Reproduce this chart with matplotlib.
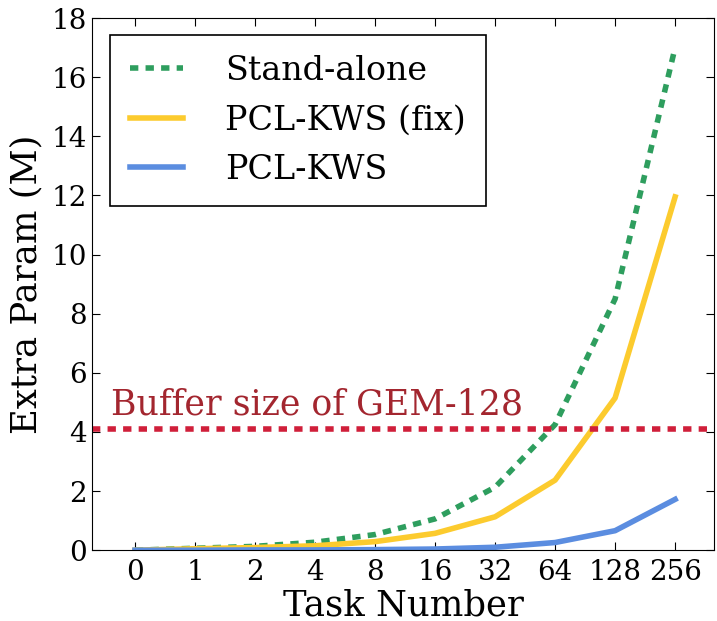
import matplotlib
matplotlib.use("Agg")
import matplotlib.pyplot as plt

# task counts on the x axis (evenly spaced categories)
tasks = ["0", "1", "2", "4", "8", "16", "32", "64", "128", "256"]
# extra parameters in millions
stand_alone = [0.0, 0.066, 0.13, 0.27, 0.53, 1.06, 2.13, 4.25, 8.5, 17.0]
pcl_fix = [0.0, 0.05, 0.09, 0.15, 0.29, 0.57, 1.13, 2.37, 5.15, 11.95]
pcl_kws = [0.0, 0.0, 0.01, 0.01, 0.02, 0.04, 0.1, 0.26, 0.66, 1.72]
buffer_gem128 = 4.1

plt.rcParams['font.family'] = 'DejaVu Serif'

fig = plt.figure(figsize=(7.17, 6.21), dpi=100)
ax = fig.add_axes([0.128, 0.114, 0.868, 0.857])

x = list(range(len(tasks)))
ax.plot(x, stand_alone, color='#2e9e5e', lw=4, ls=(0, (1.5, 1.3)), label='Stand-alone')
ax.plot(x, pcl_fix, color='#fccb2e', lw=4, label='PCL-KWS (fix)')
ax.plot(x, pcl_kws, color='#5b8de0', lw=4, label='PCL-KWS')
ax.axhline(buffer_gem128, color='#d01f3a', lw=4, ls=(0, (1.5, 1.3)))
ax.text(-0.4, buffer_gem128 + 0.27, 'Buffer size of GEM-128', color='#a3262f',
        fontsize=25, va='bottom')

ax.set_xlim(-0.72, 9.65)
ax.set_ylim(0, 18)
ax.set_xticks(x)
ax.set_xticklabels(tasks)
ax.set_yticks(range(0, 19, 2))
ax.tick_params(direction='in', top=True, right=True, labelsize=20, length=6)
ax.tick_params(axis='x', labelsize=20, pad=6)
ax.set_xlabel('Task Number', fontsize=25.5, labelpad=2)
ax.set_ylabel('Extra Param (M)', fontsize=25.5, labelpad=6)

leg = ax.legend(loc='upper left', fontsize=24, fancybox=False, handlelength=1.6,
                handletextpad=1.25, borderpad=0.6, labelspacing=0.52,
                borderaxespad=0, bbox_to_anchor=(0.029, 0.968))
leg.get_frame().set_edgecolor('black')
leg.get_frame().set_linewidth(1.2)
leg.get_frame().set_alpha(1)

fig.savefig('out.png', dpi=100)
